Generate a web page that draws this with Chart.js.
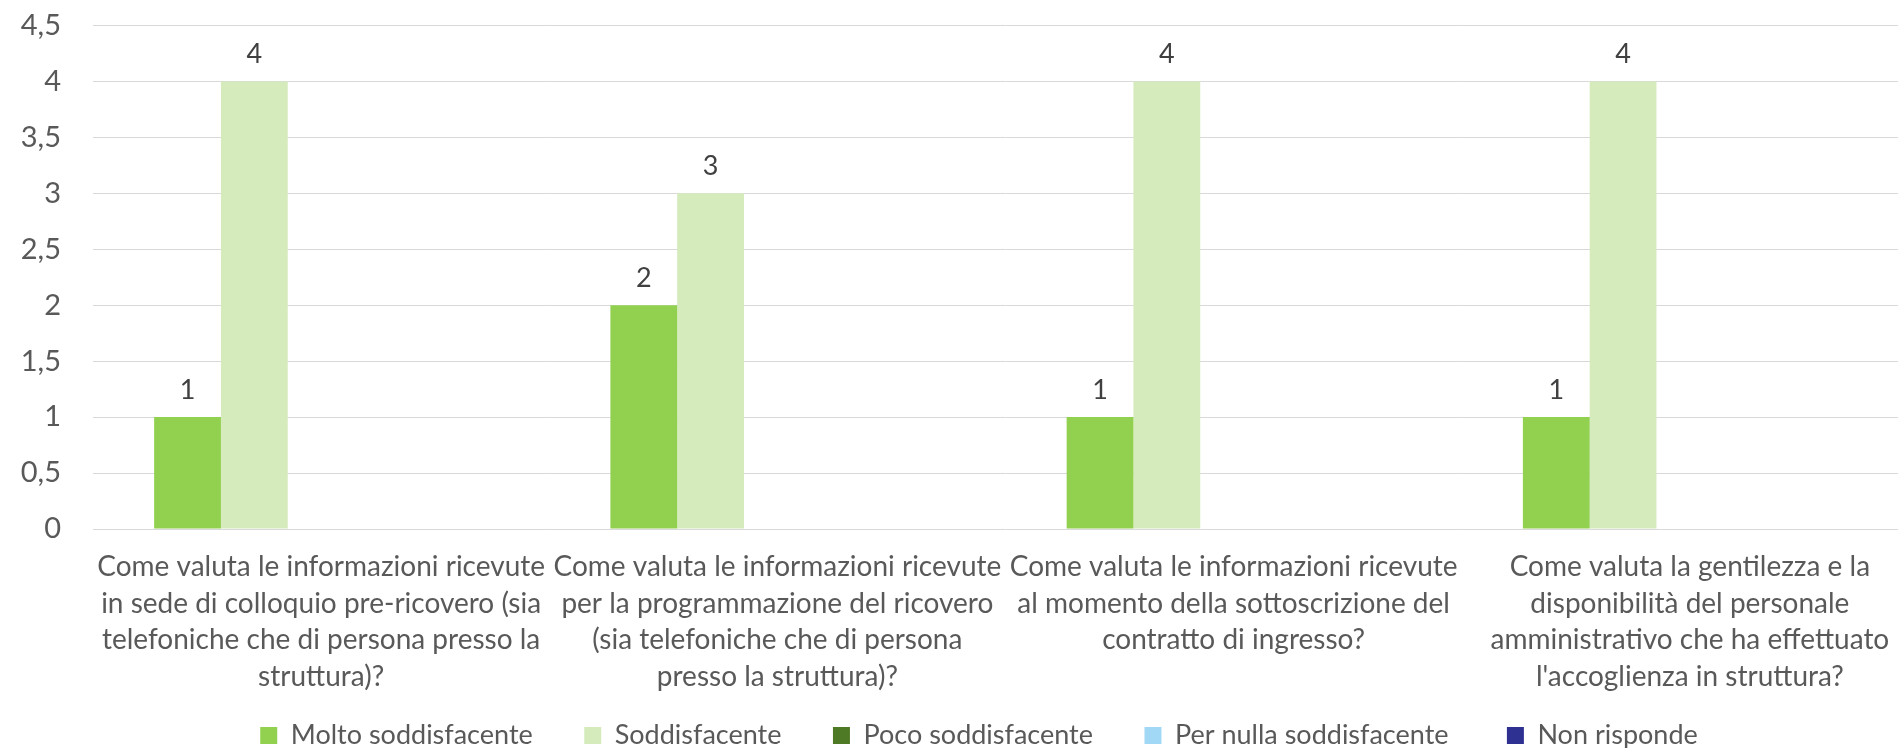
<!DOCTYPE html>
<html>
<head>
<meta charset="utf-8">
<script src="https://cdn.jsdelivr.net/npm/chart.js@4/dist/chart.umd.min.js"></script>
<style>
  html, body { margin: 0; padding: 0; background: #ffffff; overflow: hidden; width: 1898px; height: 748px; }
  #wrap { position: absolute; left: 0; top: 0; width: 1958px; height: 759px; }
  canvas { display: block; }
</style>
</head>
<body>
<div id="wrap"><canvas id="c" width="1958" height="759" style="width:1958px;height:759px"></canvas></div>
<script>
// ---- data ----
const categories = [
  ["Come valuta le informazioni ricevute", "in sede di colloquio pre-ricovero (sia", "telefoniche che di persona presso la", "struttura)?"],
  ["Come valuta le informazioni ricevute", "per la programmazione del ricovero", "(sia telefoniche che di persona", "presso la struttura)?"],
  ["Come valuta le informazioni ricevute", "al momento della sottoscrizione del", "contratto di ingresso?"],
  ["Come valuta la gentilezza e la", "disponibilità del personale", "amministrativo che ha effettuato", "l'accoglienza in struttura?"]
];
const seriesNames = ["Molto soddisfacente", "Soddisfacente", "Poco soddisfacente", "Per nulla soddisfacente", "Non risponde"];
const moltoSoddisfacente = [1, 2, 1, 1];
const soddisfacente = [4, 3, 4, 4];
const pocoSoddisfacente = [null, null, null, null];
const perNullaSoddisfacente = [null, null, null, null];
const nonRisponde = [null, null, null, null];
const yTicks = [0, 0.5, 1, 1.5, 2, 2.5, 3, 3.5, 4, 4.5];

// ---- style ----
const seriesValues = [moltoSoddisfacente, soddisfacente, pocoSoddisfacente, perNullaSoddisfacente, nonRisponde];
const seriesColors = ["#92D050", "#D5EBBC", "#4E7A26", "#A0D8F5", "#2E3192"];
const legendPitch = [324, 251, 309, 363];   // spacing between legend entries (px)

const FONT = "Lato";
const LEGEND_SIZE = 27, LEGEND_BOX = 17, LEGEND_PAD = 10;

const dataLabels = {
  id: 'dataLabels',
  afterDatasetsDraw(chart) {
    const ctx = chart.ctx;
    ctx.save();
    ctx.font = "27px " + FONT;
    ctx.fillStyle = "#404040";
    ctx.textAlign = "center";
    ctx.textBaseline = "alphabetic";
    chart.data.datasets.forEach((ds, di) => {
      const meta = chart.getDatasetMeta(di);
      meta.data.forEach((bar, i) => {
        const v = ds.data[i];
        if (v === null || v === undefined) return;
        ctx.fillText(String(v).replace('.', ','), bar.x, bar.y - 18);
      });
    });
    ctx.restore();
  }
};

const baseGen = (Chart.defaults.plugins && Chart.defaults.plugins.legend && Chart.defaults.plugins.legend.labels.generateLabels)
  || Chart.Legend.defaults.labels.generateLabels;

new Chart(document.getElementById('c'), {
  type: 'bar',
  data: {
    labels: categories,
    datasets: seriesNames.map((n, i) => ({
      label: n,
      data: seriesValues[i],
      backgroundColor: seriesColors[i],
      borderWidth: 0,
      categoryPercentage: 0.732,
      barPercentage: 1.0
    }))
  },
  options: {
    responsive: false,
    animation: false,
    devicePixelRatio: 1,
    layout: { padding: { top: 25.5, right: 40, bottom: 0, left: 40 } },
    plugins: {
      tooltip: { enabled: false },
      legend: {
        position: 'bottom',
        labels: {
          font: { family: FONT, size: LEGEND_SIZE },
          color: '#595959',
          boxWidth: LEGEND_BOX,
          boxHeight: LEGEND_BOX,
          padding: LEGEND_PAD,
          generateLabels(chart) {
            const items = baseGen(chart);
            const ctx = chart.ctx;
            ctx.save();
            ctx.font = LEGEND_SIZE + "px " + FONT;
            const sp = ctx.measureText(' ').width || 6;
            items.forEach((it, i) => {
              if (i < legendPitch.length) {
                const extra = legendPitch[i] - (LEGEND_BOX + LEGEND_SIZE / 2 + ctx.measureText(it.text).width + LEGEND_PAD);
                const n = Math.max(0, Math.round(extra / sp));
                it.text = it.text + ' '.repeat(n);
              }
            });
            ctx.restore();
            return items;
          }
        }
      }
    },
    scales: {
      x: {
        grid: { display: false },
        border: { display: false },
        ticks: {
          autoSkip: false,
          maxRotation: 0,
          minRotation: 0,
          padding: 12,
          color: '#595959',
          font: { family: FONT, size: 28, lineHeight: 1.305 }
        },
        afterFit(scale) { scale.height = 183; scale.paddingLeft = 0; scale.paddingRight = 0; }
      },
      y: {
        min: 0,
        max: 4.5,
        afterBuildTicks(scale) { scale.ticks = yTicks.map(v => ({ value: v })); },
        grid: { color: '#D9D9D9', lineWidth: 1, drawTicks: false },
        border: { display: false },
        ticks: {
          padding: 32,
          color: '#595959',
          font: { family: FONT, size: 29 },
          callback: (v) => String(v).replace('.', ',')
        },
        afterFit(scale) {
          scale.width = 53; scale.paddingTop = 0; scale.paddingBottom = 0;
          scale._computeLabelArea = () => undefined;   // let tick labels extend into the left margin
        }
      }
    }
  },
  plugins: [dataLabels]
});
</script>
</body>
</html>
